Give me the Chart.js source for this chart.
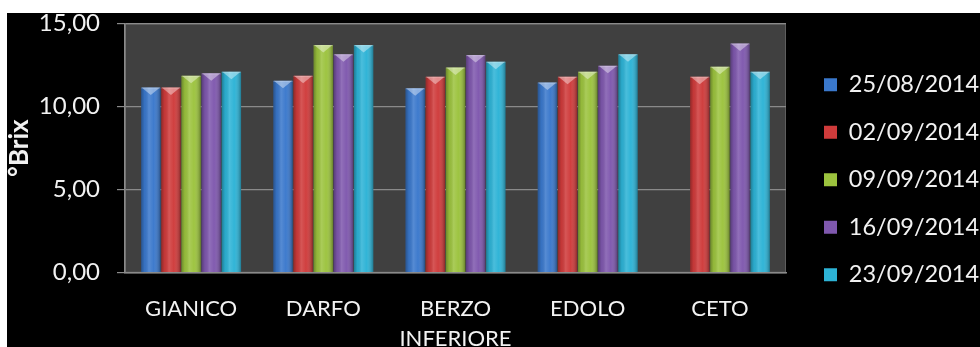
<!DOCTYPE html>
<html>
<head>
<meta charset="utf-8">
<script src="https://cdn.jsdelivr.net/npm/chart.js@4.4.1/dist/chart.umd.min.js"></script>
<style>
  html, body { margin: 0; padding: 0; background: #ffffff; }
  #wrap { position: absolute; left: 7px; top: 13px; width: 973px; height: 334px; background: #000000; }
  canvas { display: block; }
</style>
</head>
<body>
<div id="wrap"><canvas id="brix" width="973" height="334"></canvas></div>
<script>
// Sites (x categories)
const sites = ['GIANICO', 'DARFO', ['BERZO', 'INFERIORE'], 'EDOLO', 'CETO'];

// Sampling dates (series)
const dates = ['25/08/2014', '02/09/2014', '09/09/2014', '16/09/2014', '23/09/2014'];

// °Brix per site for each sampling date
const brix_2508 = [11.15, 11.55, 11.10, 11.45, null];
const brix_0209 = [11.15, 11.85, 11.80, 11.80, 11.80];
const brix_0909 = [11.85, 13.70, 12.35, 12.10, 12.40];
const brix_1609 = [12.00, 13.15, 13.10, 12.45, 13.80];
const brix_2309 = [12.10, 13.70, 12.70, 13.15, 12.10];

// Y axis tick labels (0, 5, 10, 15)
const yTickLabels = ['0,00', '5,00', '10,00', '15,00'];

const seriesValues = [brix_2508, brix_0209, brix_0909, brix_1609, brix_2309];
const seriesColors = ['#3a78cc', '#cf3b3b', '#9cc33e', '#7f58ae', '#2db3d6'];

const FONT = 'Lato, "Open Sans", "DejaVu Sans", sans-serif';
const TEXT = '#f2f2f2';
const GRID = '#8a8a8a';

// Plot background panel
const panelPlugin = {
  id: 'panel',
  beforeDraw(chart) {
    const { ctx, chartArea: a } = chart;
    ctx.save();
    ctx.fillStyle = '#000000';
    ctx.fillRect(0, 0, chart.width, chart.height);
    ctx.fillStyle = '#404040';
    ctx.fillRect(a.left, a.top, a.right - a.left, a.bottom - a.top);
    ctx.strokeStyle = '#5e5e5e';
    ctx.lineWidth = 1;
    ctx.strokeRect(a.left + 0.5, a.top + 0.5, a.right - a.left - 1, a.bottom - a.top - 1);
    ctx.restore();
  }
};

// Cylinder shading and bevelled caps on every bar
const shadePlugin = {
  id: 'shade',
  afterDatasetsDraw(chart) {
    const ctx = chart.ctx;
    ctx.save();
    chart.data.datasets.forEach((ds, di) => {
      const meta = chart.getDatasetMeta(di);
      meta.data.forEach((bar, i) => {
        if (ds.data[i] == null) return;
        const { x, y, base, width } = bar.getProps(['x', 'y', 'base', 'width'], true);
        const l = x - width / 2, r = x + width / 2;
        const g = ctx.createLinearGradient(l, 0, r, 0);
        g.addColorStop(0, 'rgba(0,0,0,0.30)');
        g.addColorStop(0.18, 'rgba(0,0,0,0.05)');
        g.addColorStop(0.4, 'rgba(255,255,255,0.14)');
        g.addColorStop(0.65, 'rgba(255,255,255,0.02)');
        g.addColorStop(1, 'rgba(0,0,0,0.32)');
        ctx.fillStyle = g;
        ctx.fillRect(l, y, width, base - y);
        // bevel cap
        ctx.beginPath();
        ctx.moveTo(l + 0.5, y);
        ctx.lineTo(r - 0.5, y);
        ctx.lineTo(x, y + 7.5);
        ctx.closePath();
        ctx.fillStyle = 'rgba(255,255,255,0.40)';
        ctx.fill();
        ctx.fillStyle = 'rgba(255,255,255,0.18)';
        ctx.fillRect(l, y, width, 1.2);
      });
    });
    ctx.restore();
  }
};

// Legend block to the right of the plot
const LEGEND_W = 194;
const legendPlace = {
  id: 'legendPlace',
  beforeLayout(chart) {
    const lg = chart.legend;
    if (lg && !lg._fixedFit) {
      const fit = lg.fit.bind(lg);
      lg.fit = function () { fit(); this.width = LEGEND_W; };
      lg._fixedFit = true;
    }
  },
  afterLayout(chart) {
    const lg = chart.legend;
    if (!lg) return;
    lg.left = 793;
    lg.right = lg.left + lg.width;
    lg.top = 36;
  }
};

new Chart(document.getElementById('brix'), {
  type: 'bar',
  data: {
    labels: sites,
    datasets: dates.map((d, k) => ({
      label: d,
      data: seriesValues[k],
      backgroundColor: seriesColors[k],
      borderWidth: 0,
      categoryPercentage: 0.762,
      barPercentage: 0.96
    }))
  },
  options: {
    responsive: false,
    animation: false,
    devicePixelRatio: 1,
    layout: { padding: { top: 10.5, left: 0, right: 0, bottom: 0 } },
    plugins: {
      tooltip: { enabled: false },
      legend: {
        position: 'right',
        align: 'start',
        labels: {
          color: TEXT,
          font: { family: FONT, size: 23.5 },
          boxWidth: 13,
          boxHeight: 13,
          padding: 24,
          generateLabels(chart) {
            return chart.data.datasets.map((ds, i) => ({
              text: ds.label,
              fillStyle: ds.backgroundColor,
              strokeStyle: ds.backgroundColor,
              fontColor: TEXT,
              lineWidth: 0,
              hidden: false,
              datasetIndex: i
            }));
          }
        }
      }
    },
    scales: {
      x: {
        grid: { display: false },
        border: { display: true, color: GRID, width: 1.5 },
        ticks: {
          color: TEXT,
          font: { family: FONT, size: 22, lineHeight: 1.36 },
          padding: 13,
          maxRotation: 0,
          autoSkip: false
        },
        afterFit(s) { s.height = 74.3; s.paddingLeft = 0; s.paddingRight = 0; }
      },
      y: {
        min: 0,
        max: 15,
        ticks: {
          stepSize: 5,
          color: TEXT,
          font: { family: FONT, size: 24 },
          padding: 17,
          callback: (v, i) => yTickLabels[i]
        },
        grid: { color: GRID, lineWidth: 1.2, tickLength: 8 },
        border: { display: true, color: GRID, width: 1.5 },
        title: {
          display: true,
          text: '°Brix',
          color: TEXT,
          font: { family: FONT, size: 26, weight: 'bold', lineHeight: 1 },
          padding: 0
        },
        afterFit(s) { s.width = 118; s.paddingTop = 0; s.paddingBottom = 0; }
      }
    }
  },
  plugins: [panelPlugin, shadePlugin, legendPlace]
});
</script>
</body>
</html>
